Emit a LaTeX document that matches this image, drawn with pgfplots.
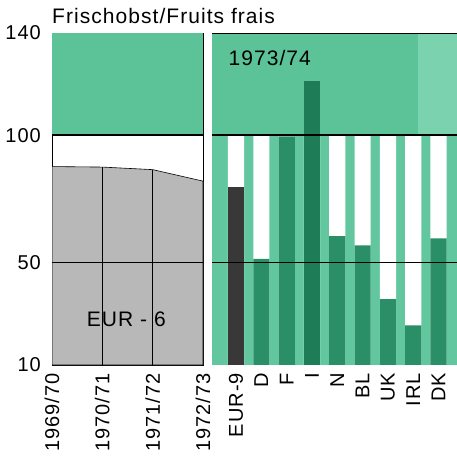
\documentclass[border=0pt]{standalone}
\usepackage{fontspec}
\setmainfont[LetterSpace=5]{Liberation Sans}
\usepackage{pgfplots}
\pgfplotsset{compat=1.18}

\definecolor{band}{HTML}{5CC298}
\definecolor{bandlight}{HTML}{7BD2AE}
\definecolor{stripe}{HTML}{62C79F}
\definecolor{bargreen}{HTML}{2A8E66}
\definecolor{bardark}{HTML}{1E7C57}
\definecolor{eurbar}{HTML}{383838}
\definecolor{area}{HTML}{B8B8B8}

\newcommand{\lbl}{\fontsize{20}{24}\selectfont}

\begin{document}
\begin{tikzpicture}
\useasboundingbox (0,0) rectangle (457pt,460pt);

% left panel: EUR-6 series
\begin{axis}[
  at={(52pt,95pt)}, anchor=south west,
  scale only axis, width=151pt, height=332pt,
  xmin=0, xmax=3, ymin=10, ymax=140,
  xtick={0,1,2,3},
  xticklabels={1969/70,1970/71,1971/72,1972/73},
  ytick={10,50,100,140},
  major tick length=0pt,
  /pgf/number format/assume math mode=true,
  xticklabel style={font=\lbl, rotate=90, anchor=east, inner sep=0pt, xshift=-8pt},
  yticklabel style={font=\lbl, inner sep=0pt, xshift=-11pt},
  axis line style={black, line width=0.8pt},
  clip=true,
]
\fill[band] (axis cs:0,100) rectangle (axis cs:3,140);
\addplot[fill=area, draw=black, line width=0.6pt] coordinates {(0,87.7) (1,87.5) (2,86.5) (3,82)} \closedcycle;
\draw[black, line width=0.8pt] (axis cs:1,10) -- (axis cs:1,87.5);
\draw[black, line width=0.8pt] (axis cs:2,10) -- (axis cs:2,86.5);
\draw[black, line width=0.8pt] (axis cs:0,50) -- (axis cs:3,50);
\draw[black, line width=2.4pt] (axis cs:0,100) -- (axis cs:3,100);
\node[font=\fontsize{21}{24}\selectfont, anchor=base west, inner sep=0pt] at (axis cs:0.69,25) {EUR - 6};
\end{axis}

% right panel: 1973/74 by country
\begin{axis}[
  at={(212pt,95pt)}, anchor=south west,
  scale only axis, width=245pt, height=332pt,
  xmin=-0.95, xmax=8.73, ymin=10, ymax=140,
  xtick={0,...,8},
  xticklabels={EUR-9,D,F,I,N,BL,UK,IRL,DK},
  ytick=\empty,
  major tick length=0pt,
  xticklabel style={font=\lbl, rotate=90, anchor=east, inner sep=0pt, xshift=-8pt},
  axis line style={draw=none},
  ybar, bar width=0.64, bar shift=0pt,
  clip=true,
]
\fill[stripe] (axis cs:-0.95,10) rectangle (axis cs:8.73,100);
\fill[band] (axis cs:-0.95,100) rectangle (axis cs:8.73,140);
\fill[bandlight] (axis cs:7.2,100) rectangle (axis cs:8.73,140);
\addplot[fill=white, draw=none] coordinates {(0,100) (1,100) (2,100) (3,100) (4,100) (5,100) (6,100) (7,100) (8,100)};
\addplot[fill=eurbar, draw=none] coordinates {(0,79.8)};
\addplot[fill=bargreen, draw=none] coordinates {(1,51.6) (2,99.5) (4,60.5) (5,56.8) (6,35.8) (7,25.5) (8,59.6)};
\addplot[fill=bardark, draw=none] coordinates {(3,121.2)};
\draw[black, line width=0.8pt] (axis cs:-0.95,50) -- (axis cs:8.73,50);
\draw[black, line width=2.4pt] (axis cs:-0.95,100) -- (axis cs:8.73,100);
\draw[black, line width=0.8pt] (axis cs:-0.95,140) -- (axis cs:8.73,140);
\node[font=\fontsize{21}{24}\selectfont, anchor=base west, inner sep=0pt] at (axis cs:-0.3,127.3) {1973/74};
\end{axis}

\node[font=\fontsize{21}{24}\selectfont, anchor=base west, inner sep=0pt] at (52pt,436pt) {Frischobst/Fruits frais};
\end{tikzpicture}
\end{document}
